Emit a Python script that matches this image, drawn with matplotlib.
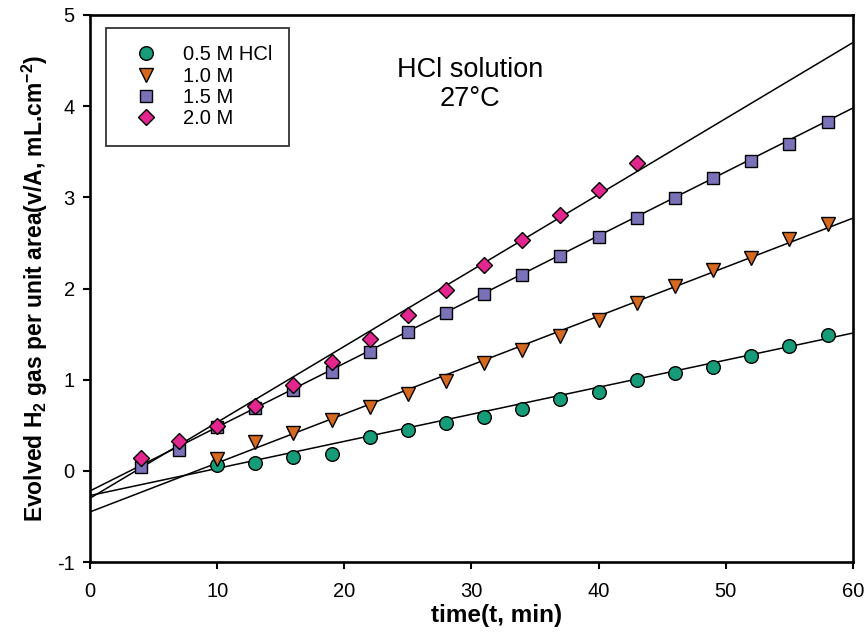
import numpy as np
import matplotlib
matplotlib.use("Agg")
import matplotlib.pyplot as plt

plt.rcParams['font.family'] = ['Liberation Sans', 'DejaVu Sans']
plt.rcParams['mathtext.fontset'] = 'custom'
plt.rcParams['mathtext.rm'] = 'Liberation Sans'
plt.rcParams['mathtext.bf'] = 'Liberation Sans:bold'
plt.rcParams['axes.unicode_minus'] = False

# data
t_05 = [10, 13, 16, 19, 22, 25, 28, 31, 34, 37, 40, 43, 46, 49, 52, 55, 58]
v_05 = [0.07, 0.09, 0.15, 0.19, 0.37, 0.45, 0.52, 0.59, 0.68, 0.79, 0.87, 1.00,
        1.07, 1.14, 1.26, 1.37, 1.49]

t_10 = [10, 13, 16, 19, 22, 25, 28, 31, 34, 37, 40, 43, 46, 49, 52, 55, 58]
v_10 = [0.13, 0.32, 0.42, 0.56, 0.70, 0.84, 0.99, 1.18, 1.33, 1.48, 1.65, 1.84,
        2.03, 2.20, 2.34, 2.54, 2.71]

t_15 = [4, 7, 10, 13, 16, 19, 22, 25, 28, 31, 34, 37, 40, 43, 46, 49, 52, 55, 58]
v_15 = [0.04, 0.23, 0.48, 0.69, 0.89, 1.09, 1.30, 1.52, 1.73, 1.94, 2.15, 2.36,
        2.57, 2.77, 2.99, 3.21, 3.40, 3.59, 3.83]

t_20 = [4, 7, 10, 13, 16, 19, 22, 25, 28, 31, 34, 37, 40, 43]
v_20 = [0.14, 0.33, 0.49, 0.71, 0.94, 1.19, 1.45, 1.71, 1.98, 2.26, 2.53, 2.81,
        3.08, 3.38]

# fitted lines (slope, intercept)
fit_05 = (0.0297, -0.27)
fit_10 = (0.0537, -0.45)
fit_15 = (0.0700, -0.22)
fit_20 = (0.0833, -0.30)

series = [
    ("0.5 M HCl", t_05, v_05, fit_05, "o", "#169c78", 9.8),
    ("1.0 M", t_10, v_10, fit_10, "v", "#d4691f", 10),
    ("1.5 M", t_15, v_15, fit_15, "s", "#7a72b8", 9),
    ("2.0 M", t_20, v_20, fit_20, "D", "#e2268e", 8.5),
]

fig = plt.figure(figsize=(8.67, 6.38), dpi=100)
ax = fig.add_axes([0.1038, 0.119, 0.880, 0.8575])

xx = np.array([0, 60])
for label, t, v, (m, b), mk, col, ms in series:
    ax.plot(xx, m * xx + b, color="black", lw=1.1, zorder=2)
for label, t, v, (m, b), mk, col, ms in series:
    ax.plot(t, v, linestyle="none", marker=mk, markersize=ms, markerfacecolor=col,
            markeredgecolor="black", markeredgewidth=1.0, label=label, zorder=3)

ax.set_xlim(0, 60)
ax.set_ylim(-1, 5)
ax.set_xticks(range(0, 61, 10))
ax.set_yticks(range(-1, 6))
ax.tick_params(direction="out", length=5, width=1.5, labelsize=14.5)
ax.tick_params(axis="x", pad=9)
ax.tick_params(axis="y", pad=6)
for sp in ax.spines.values():
    sp.set_linewidth(1.9)

ax.set_xlabel("time(t, min)", fontsize=17.5, fontweight="bold")
ax.xaxis.set_label_coords(0.533, -0.076)
ax.set_ylabel(r"Evolved H$_\mathbf{2}$ gas per unit area(v/A, mL.cm$^\mathbf{-2}$)",
              fontsize=16.5, fontweight="bold", labelpad=5)

ax.text(29.9, 4.24, "HCl solution\n27\u00b0C", ha="center", va="center",
        fontsize=19.5, linespacing=1.15)

leg = ax.legend(loc="upper left", bbox_to_anchor=(0.021, 0.976), borderaxespad=0,
                fontsize=14.5, frameon=True, fancybox=False, edgecolor="black",
                handletextpad=0.65, labelspacing=0.12, borderpad=0.85,
                handlelength=2.3)
leg.get_frame().set_linewidth(1.3)

fig.savefig("out.png", dpi=100)
